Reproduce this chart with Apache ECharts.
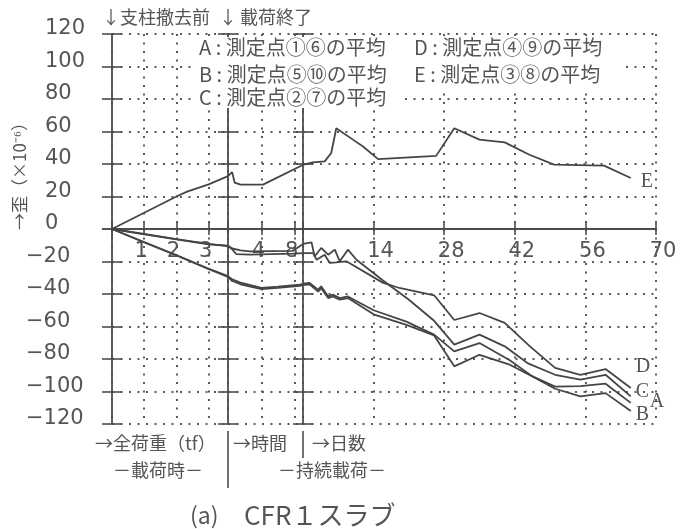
<!DOCTYPE html>
<html>
<head>
<meta charset="utf-8">
<script src="https://cdn.jsdelivr.net/npm/echarts@6/dist/echarts.min.js"></script>
<style>
  html, body { margin: 0; padding: 0; background: #fff; }
  #chart { width: 686px; height: 529px; }
</style>
</head>
<body>
<div id="chart"></div>
<script>
// Strain (x10^-6) of the CFR1 slab, averaged over pairs of gauges.
// Three stages share one strain axis: during loading (x = total load, tf),
// the hours right after loading, and the days of sustained load.
// Each stage is split into a tension half (0..120) and a compression half (-120..0).

// axis ranges [min, max, step]
const tensionRange = [0, 120, 20];
const compressionRange = [-120, 0, 20];
const loadRange = [0, 3.6, 1];    // tf
const hourRange = [0, 9, 4];      // hours
const dayRange = [0, 70, 14];     // days

// A: gauges 1 & 6
const loadA = [[0, 0], [1, -8], [2, -16], [2.95, -24], [3.6, -29]];
const hourA = [[0, -29], [0.5, -31], [1.5, -33], [4, -36.3], [6, -35.5], [8.6, -34.3], [9, -33.7]];
const dayA = [[0, -33.7], [1.3, -33.2], [3, -37.3], [3.6, -35.3], [5, -41.5], [5.9, -40.4], [7.3, -42.5], [8.9, -41.5],
  [14, -50], [20.5, -57], [26, -65], [30, -75.3], [35, -70.2], [41, -80.8], [45.5, -90.7], [50, -97], [55, -96.7], [60, -95.2], [65, -107]];

// B: gauges 5 & 10
const loadB = [[0, 0], [1, -8.3], [2, -16.3], [2.95, -24.3], [3.6, -29.5]];
const hourB = [[0, -29.5], [0.5, -32], [1.5, -34], [4, -37], [6, -36.2], [8.6, -35], [9, -34.5]];
const dayB = [[0, -34.5], [1.3, -34], [3, -38.5], [3.6, -36.5], [5, -42.5], [5.9, -41.5], [7.3, -43.5], [8.9, -42.5],
  [14, -52.5], [20.5, -59], [26, -65.5], [30, -84.5], [35, -77.4], [41, -83.5], [45.5, -90.7], [50, -98.3], [55, -103], [60, -101], [65, -112]];

// C: gauges 2 & 7
const loadC = [[0, 0], [1, -3.3], [2, -6.4], [3, -9.4], [3.6, -10.3]];
const hourC = [[0, -10.3], [0.5, -12], [1.5, -13.2], [2.6, -13.8], [7.8, -13.4], [9, -9.2]];
const dayC = [[0, -9.2], [1.7, -8.2], [2.3, -16.9], [3.6, -11.7], [5, -15.8], [6.3, -12.7], [7.3, -19.9], [8.9, -12.7], [10.6, -18.9],
  [15.8, -31.5], [21, -43.5], [26, -56.5], [30, -71.2], [35, -65], [40, -72.2], [44.5, -82.5], [50, -89.7], [55, -92.7], [60, -89.7], [65, -103]];

// D: gauges 4 & 9
const loadD = [[0, 0], [1, -3], [2, -6.2], [3, -9.2], [3.6, -10.5]];
const hourD = [[0, -10.5], [0.4, -12], [1, -15.5], [2.6, -15.8], [7.8, -15.2], [9, -14.8]];
const dayD = [[0, -14.8], [2, -14.8], [2.7, -18.9], [4.3, -15.8], [5.3, -20.9], [6.6, -20.6], [8.6, -19.9],
  [15.8, -33], [19.1, -36.3], [26, -40.8], [30, -56], [35, -51.7], [40, -57.8], [45, -72.2], [50, -85.5], [55, -89.7], [60, -86.2], [65, -97.8]];

// E: gauges 3 & 8
const loadE = [[0, 0], [1, 10], [2, 20], [2.33, 23], [3, 27.5], [3.6, 32.5]];
const hourE = [[0, 32.5], [0.5, 35], [0.8, 28.5], [1.5, 27.3], [4.2, 27.3], [8.6, 38.5], [9, 39.5]];
const dayE = [[0, 39.5], [1.9, 41], [4.3, 41.6], [5.6, 46.8], [6.6, 62], [9.9, 55], [11.9, 50.8], [14.9, 43],
  [26.4, 45], [30, 62], [35, 55], [40, 53.3], [44.9, 45.7], [49.8, 39.6], [59.7, 39], [65, 31.4]];

const INK = '#454545';
const AXIS = '#4d4d4d';
const DOTS = '#5a5a5a';
const TEXT = '#555';
const NUM = 'DejaVu Sans';
const JP = 'Noto Sans CJK JP';
const SERIF = 'Liberation Serif';

const chart = echarts.init(document.getElementById('chart'), null, { renderer: 'canvas' });

// column boxes (load / hours / days) and half boxes (tension / compression)
const columns = [{ left: 112, width: 116 }, { left: 228, width: 75 }, { left: 303, width: 353 }];
const halves = [{ top: 34, height: 195 }, { top: 229, height: 195 }];
const xRanges = [loadRange, hourRange, dayRange];
const labelPads = [[0, 6, 0, 0], [0, 6, 0, 0], [0, 0, 0, 14]];

const dotStyle = () => ({ color: DOTS, width: 2, type: [2, 6.5] });
const axisStroke = () => ({ color: AXIS, width: 1.8 });
const tickStroke = () => ({ color: AXIS, width: 1.6 });

const grid = [], xAxis = [], yAxis = [];

columns.forEach((col, c) => {
  halves.forEach((half, h) => {
    const g = grid.length;
    grid.push({ left: col.left, width: col.width, top: half.top, height: half.height, containLabel: false, outerBoundsMode: 'none' });

    const r = xRanges[c];
    xAxis.push({
      type: 'value', gridIndex: g, min: r[0], max: r[1], interval: r[2],
      position: h === 0 ? 'bottom' : 'top',
      axisLine: { show: true, onZero: false, lineStyle: axisStroke() },
      axisTick: { show: true, length: 6, lineStyle: tickStroke() },
      axisLabel: h === 0 ? {
        show: true, margin: 12, fontSize: 21, lineHeight: 21, fontFamily: NUM, color: TEXT, padding: labelPads[c],
        formatter: v => (v !== 0 && Math.abs(v % r[2]) < 1e-9) ? String(v) : ''
      } : { show: false },
      splitLine: { show: true, lineStyle: dotStyle() }
    });

    const yr = h === 0 ? tensionRange : compressionRange;
    const yBase = { type: 'value', gridIndex: g, min: yr[0], max: yr[1], interval: yr[2], position: 'left' };
    const lbl = { fontSize: 21, lineHeight: 10, fontFamily: NUM, color: TEXT, align: 'left', verticalAlign: 'bottom' };
    const showNums = c === 0;
    // outward ticks, axis line and horizontal grid lines
    yAxis.push(Object.assign({}, yBase, {
      axisLine: { show: true, onZero: false, lineStyle: axisStroke() },
      axisTick: { show: true, length: 10, lineStyle: tickStroke() },
      axisLabel: (showNums && h === 0)
        ? Object.assign({ show: true, margin: 67, formatter: v => String(v) }, lbl)
        : { show: false },
      splitLine: { show: true, lineStyle: dotStyle() }
    }));
    // inward ticks, so every tick crosses the line
    yAxis.push(Object.assign({}, yBase, {
      axisLine: { show: false, onZero: false },
      axisTick: { show: true, inside: true, length: 10, lineStyle: tickStroke() },
      axisLabel: (showNums && h === 1)
        ? Object.assign({ show: true, margin: 86, formatter: v => (v < 0 ? '\u2212' + (-v) : '') }, lbl)
        : { show: false },
      splitLine: { show: false }
    }));
  });
});

const curves = [
  { name: 'A', stages: [loadA, hourA, dayA], half: 1, offset: [11, -1] },
  { name: 'B', stages: [loadB, hourB, dayB], half: 1, offset: [-3, 4] },
  { name: 'C', stages: [loadC, hourC, dayC], half: 1, offset: [-3, -5] },
  { name: 'D', stages: [loadD, hourD, dayD], half: 1, offset: [-3, -21] },
  { name: 'E', stages: [loadE, hourE, dayE], half: 0, offset: [2, 4] }
];

const series = [];
curves.forEach(cv => {
  cv.stages.forEach((data, c) => {
    const g = c * 2 + cv.half;
    const s = {
      type: 'line', name: cv.name, xAxisIndex: g, yAxisIndex: g * 2, data: data,
      symbol: 'none', smooth: false, z: 5, clip: false,
      lineStyle: { color: INK, width: 1.8 },
      emphasis: { disabled: true }
    };
    if (c === 2) {
      s.endLabel = { show: true, formatter: cv.name, offset: cv.offset, fontFamily: SERIF, fontSize: 20, color: TEXT };
    }
    series.push(s);
  });
});

function txt(x, y, text, size, opts) {
  return Object.assign({
    type: 'text', x: x, y: y, z: 20,
    style: Object.assign({
      text: text, font: size + 'px "' + JP + '"', fill: TEXT,
      align: 'left', verticalAlign: 'middle', textAlign: 'left', textVerticalAlign: 'middle'
    }, (opts && opts.style) || {})
  }, (opts && opts.el) || {});
}

const graphic = [
  // white panel behind the key
  { type: 'rect', z: 15, shape: { x: 195, y: 37, width: 425, height: 52 }, style: { fill: '#fff' } },
  { type: 'rect', z: 15, shape: { x: 195, y: 86, width: 205, height: 22 }, style: { fill: '#fff' } },
  // stage markers along the top
  txt(111, 17, '↓', 18, { style: { align: 'center', textAlign: 'center' } }),
  txt(120, 17, '支柱撤去前', 18),
  txt(228, 17, '↓', 18, { style: { align: 'center', textAlign: 'center' } }),
  txt(240, 17, '載荷終了', 18),
  // key
  txt(199, 47, 'A : 測定点①⑥の平均', 20),
  txt(414, 47, 'D : 測定点④⑨の平均', 20),
  txt(199, 74, 'B : 測定点⑤⑩の平均', 20),
  txt(414, 74, 'E : 測定点③⑧の平均', 20),
  txt(199, 97, 'C : 測定点②⑦の平均', 20),
  // strain axis title
  txt(20, 172, '→歪（×10⁻⁶）', 17, { el: { rotation: Math.PI / 2 }, style: { align: 'center', textAlign: 'center' } }),
  // stage captions under the axis
  txt(95, 443, '→全荷重（tf）', 18),
  txt(233, 443, '→時間', 18),
  txt(312, 443, '→日数', 18),
  txt(113, 470, '－載荷時－', 18),
  txt(278, 470, '－持続載荷－', 18),
  txt(190, 515, '(a)', 23),
  txt(244, 515, 'CFR１スラブ', 26),
  // stage separators continued below the plot
  { type: 'line', z: 20, shape: { x1: 228, y1: 431, x2: 228, y2: 488 }, style: { stroke: AXIS, lineWidth: 1.6 } },
  { type: 'line', z: 20, shape: { x1: 303, y1: 431, x2: 303, y2: 458 }, style: { stroke: AXIS, lineWidth: 1.6 } }
];

chart.setOption({
  backgroundColor: '#fff',
  animation: false,
  grid: grid,
  xAxis: xAxis,
  yAxis: yAxis,
  series: series,
  graphic: graphic
});
</script>
</body>
</html>
